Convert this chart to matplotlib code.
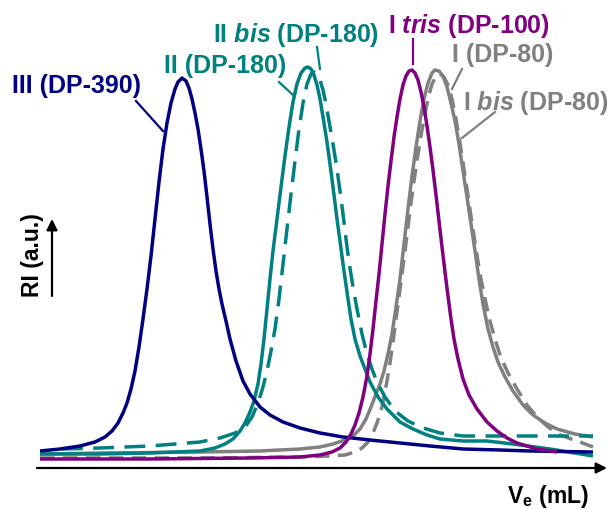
import matplotlib
matplotlib.use("Agg")
import matplotlib.pyplot as plt

plt.rcParams['font.family'] = ['Liberation Sans', 'DejaVu Sans']
plt.rcParams['mathtext.fontset'] = 'custom'
plt.rcParams['mathtext.rm'] = 'Liberation Sans:bold'
plt.rcParams['mathtext.it'] = 'Liberation Sans:bold:italic'
plt.rcParams['mathtext.bf'] = 'Liberation Sans:bold'

# ---- data (elution volume in arbitrary units, RI in arbitrary units) ----
ve_III = [40, 60, 80, 95, 105, 112, 118, 123, 127, 131, 135, 139, 143, 147, 151, 155,
          159, 163, 167, 171, 175, 178, 182, 186, 189, 192, 195, 198, 201, 204, 207,
          210, 213, 216, 219, 222, 226, 230, 236, 243, 250, 260, 270, 283, 300, 320,
          343, 370, 400, 430, 463, 500, 530, 593]
ri_III = [18, 20, 23, 27, 32, 38, 46, 56, 66, 80, 98, 122, 150, 180, 213, 250,
          287, 320, 346, 366, 380, 387, 391, 388, 381, 370, 356, 340, 320, 298, 272,
          245, 220, 198, 180, 165, 148, 130, 108, 88, 75, 62, 54, 47, 41, 36,
          32, 29, 26, 23, 20, 19, 18, 17]

ve_II = [40, 100, 150, 200, 215, 225, 233, 240, 245, 250, 254, 258, 261, 264, 267, 270,
         273, 277, 281, 285, 289, 293, 297, 301, 305, 308, 311, 314, 317, 320, 323,
         327, 330, 333, 337, 340, 343, 347, 351, 355, 360, 365, 370, 378, 387, 400,
         413, 427, 440, 463, 487, 513, 550, 593]
ri_II = [15, 15, 16, 18, 21, 25, 30, 38, 46, 57, 68, 85, 105, 130, 160, 190,
         218, 250, 282, 313, 342, 367, 385, 396, 401, 402, 400, 394, 384, 370, 352,
         327, 305, 282, 250, 228, 205, 177, 150, 130, 113, 100, 87, 72, 60, 47,
         40, 34, 30, 28, 28, 25, 20, 13]

ve_IIbis = [62, 100, 150, 200, 220, 235, 245, 252, 258, 263, 267, 271, 275, 279, 283,
            287, 291, 295, 299, 303, 307, 311, 314, 317, 320, 323, 326, 329, 333, 337,
            340, 343, 346, 349, 353, 357, 362, 367, 372, 377, 385, 395, 408, 423, 440,
            463, 530, 593]
ri_IIbis = [20, 21, 23, 27, 31, 36, 42, 52, 66, 82, 98, 118, 140, 170, 205,
            240, 275, 308, 340, 366, 385, 395, 397, 395, 389, 379, 365, 348, 325, 300,
            278, 255, 230, 207, 182, 160, 135, 115, 100, 87, 72, 58, 48, 41, 36,
            33, 33, 33]

ve_Itris = [40, 150, 250, 300, 320, 332, 340, 346, 351, 355, 359, 363, 367, 370, 373,
            376, 379, 382, 385, 388, 391, 394, 397, 400, 403, 406, 409, 412, 415, 418,
            421, 424, 427, 430, 433, 436, 439, 442, 445, 448, 451, 454, 458, 463, 469,
            477, 487, 497, 507, 517, 537, 557]
ri_Itris = [10, 10, 11, 12, 14, 17, 21, 27, 35, 44, 56, 72, 93, 115, 140,
            168, 195, 225, 255, 283, 308, 332, 352, 370, 384, 393, 398, 399, 396, 389,
            377, 362, 343, 322, 299, 274, 248, 222, 197, 173, 150, 130, 110, 90, 74,
            60, 47, 38, 31, 26, 20, 17]

ve_I = [40, 100, 200, 260, 300, 320, 333, 345, 353, 360, 366, 371, 376, 380, 384, 388,
        392, 395, 400, 404, 408, 412, 416, 420, 424, 428, 432, 435, 439, 443, 447, 451,
        455, 459, 463, 467, 471, 475, 479, 483, 488, 493, 498, 505, 513, 523, 533, 545,
        557, 575, 593]
ri_I = [15, 16, 17, 18, 20, 22, 25, 29, 33, 40, 50, 62, 75, 85, 98, 115,
        135, 155, 190, 225, 260, 293, 322, 348, 370, 386, 396, 399, 398, 393, 382, 366,
        348, 325, 298, 272, 245, 218, 190, 165, 140, 122, 107, 92, 78, 64, 54, 46,
        40, 35, 32]

ve_Ibis = [40, 200, 300, 330, 345, 355, 362, 368, 373, 377, 381, 384, 387, 390, 393,
           396, 399, 402, 405, 408, 411, 414, 417, 420, 424, 428, 432, 436, 440, 444,
           448, 452, 456, 460, 464, 468, 472, 476, 480, 485, 490, 495, 500, 508, 517,
           527, 537, 548, 560, 580, 593]
ri_Ibis = [11, 11, 12, 13, 14, 17, 21, 27, 36, 46, 58, 72, 88, 106, 127,
           150, 172, 195, 218, 242, 266, 288, 308, 328, 350, 370, 385, 393, 395, 392,
           384, 370, 350, 326, 300, 273, 246, 220, 195, 170, 148, 130, 114, 96, 80,
           64, 52, 42, 34, 27, 22]

labels = [r"III (DP-390)", r"II (DP-180)", r"II $\mathit{bis}$ (DP-180)",
          r"I $\mathit{tris}$ (DP-100)", r"I (DP-80)", r"I $\mathit{bis}$ (DP-80)"]

navy, teal, purple, grey = "#000080", "#008080", "#800080", "#808080"

fig = plt.figure(figsize=(6.09, 5.10), dpi=100)
ax = fig.add_axes([0, 0, 1, 1])
ax.set_xlim(0, 609)
ax.set_ylim(-40, 470)
ax.axis('off')

lw = 2.5
kw = dict(lw=lw, solid_joinstyle='round', solid_capstyle='butt')
ax.plot(ve_Ibis, ri_Ibis, color=grey, dashes=(4.2, 2.4), **kw)
ax.plot(ve_I, ri_I, color=grey, **kw)
ax.plot(ve_IIbis, ri_IIbis, color=teal, dashes=(6.0, 3.0), **kw)
ax.plot(ve_II, ri_II, color=teal, **kw)
ax.plot(ve_III, ri_III, color=navy, **kw)
ax.plot(ve_Itris, ri_Itris, color=purple, **kw)

# axes arrows
ax.annotate("", xy=(607, 1), xytext=(37, 1),
            arrowprops=dict(arrowstyle='-|>', color='black', lw=1.6, mutation_scale=16,
                            shrinkA=0, shrinkB=0))
ax.annotate("", xy=(52, 250), xytext=(52, 173),
            arrowprops=dict(arrowstyle='-|>', color='black', lw=1.6, mutation_scale=16,
                            shrinkA=0, shrinkB=0))

fs = 18
ax.text(32, 215, "RI (a.u.)", rotation=90, ha='center', va='center',
        fontsize=16.5, fontweight='bold', color='black')
ax.text(507, -33, r"V$_\mathrm{e}$ (mL)", ha='left', va='baseline',
        fontsize=16.5, fontweight='bold', color='black')

# series labels with leader lines
lab_pos = [(12, 377, navy), (164, 397, teal), (213, 428, teal),
           (388, 437, purple), (452, 408, grey), (463, 360, grey)]
for s, (x, y, c) in zip(labels, lab_pos):
    ax.text(x, y, s, ha='left', va='baseline', fontsize=fs, fontweight='bold', color=c)

leaders = [((136, 163), (368, 338), navy),
           ((279, 293), (387, 374), teal),
           ((317, 320), (422, 400), teal),
           ((413, 413), (430, 405), purple),
           ((462, 452), (400, 380), grey),
           ((495, 462), (357, 331), grey)]
for xs, ys, c in leaders:
    ax.plot(xs, ys, color=c, lw=1.6)

fig.savefig("out.png", dpi=100)
